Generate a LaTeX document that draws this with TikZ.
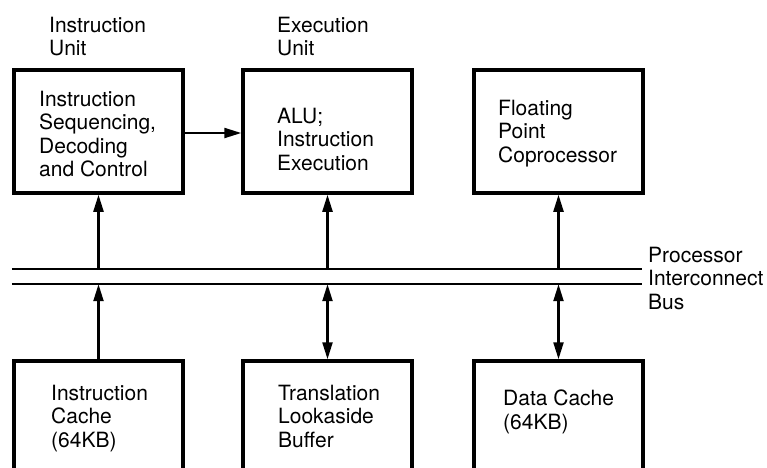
\documentclass[tikz,border=0pt]{standalone}
\usepackage{fontspec}
\setmainfont{TeX Gyre Heros}
\usetikzlibrary{arrows.meta}
\begin{document}
\begin{tikzpicture}[x=1pt,y=-1pt,
  unit/.style={draw,line width=3.5pt,minimum width=169pt,minimum height=123pt,inner sep=0},
  lowunit/.style={unit,minimum height=130pt},
  txt/.style={anchor=north west,inner sep=0,align=left,font=\fontsize{21}{23.3}\selectfont},
  link/.style={line width=2.2pt,-{Triangle[length=17pt,width=10pt]}},
  dlink/.style={line width=2.2pt,{Triangle[length=17pt,width=10pt]}-{Triangle[length=17pt,width=10pt]}},
  busline/.style={line width=2pt}]
\useasboundingbox (0,0) rectangle (767,467);
\clip (0,0) rectangle (767,467);

% processor units
\node[unit] (seq) at (98.5,131.5) {};
\node[unit] (alu) at (327.5,131.5) {};
\node[unit] (fpu) at (558.5,131.5) {};

% memory-side units (running off the lower edge)
\node[lowunit] (icache) at (98.5,426) {};
\node[lowunit] (tlb) at (327.5,426) {};
\node[lowunit] (dcache) at (558.5,426) {};

% interconnect bus
\node[minimum width=630pt,minimum height=15pt,inner sep=0] (bus) at (327,276.5) {};
\draw[busline] (bus.north west) -- (bus.north east);
\draw[busline] (bus.south west) -- (bus.south east);

% group headings
\node[txt] (iuhead) at (49,17) {Instruction\\Unit};
\node[txt] (euhead) at (277,17) {Execution\\Unit};
\node[txt] (bushead) at (648,247) {Processor\\Interconnect\\Bus};

% unit texts
\node[txt] (seqtxt) at (39,91) {Instruction\\Sequencing,\\Decoding\\and Control};
\node[txt] (alutxt) at (277,108) {ALU;\\Instruction\\Execution};
\node[txt] (fputxt) at (498,100) {Floating\\Point\\Coprocessor};
\node[txt] (ictxt) at (51,385) {Instruction\\Cache\\(64KB)};
\node[txt] (tlbtxt) at (278,385) {Translation\\Lookaside\\Buffer};
\node[txt] (dctxt) at (503,390) {Data Cache\\(64KB)};

% connections
\draw[link] ([yshift=-1.5pt]seq.east) -- ([yshift=-1.5pt]alu.west);
\draw[link] (seq.south |- bus.north) -- (seq.south);
\draw[link] (alu.south |- bus.north) -- (alu.south);
\draw[link] (fpu.south |- bus.north) -- (fpu.south);
\draw[link] (icache.north) -- (icache.north |- bus.south);
\draw[dlink] (tlb.north) -- (tlb.north |- bus.south);
\draw[dlink] (dcache.north) -- (dcache.north |- bus.south);
\end{tikzpicture}
\end{document}
